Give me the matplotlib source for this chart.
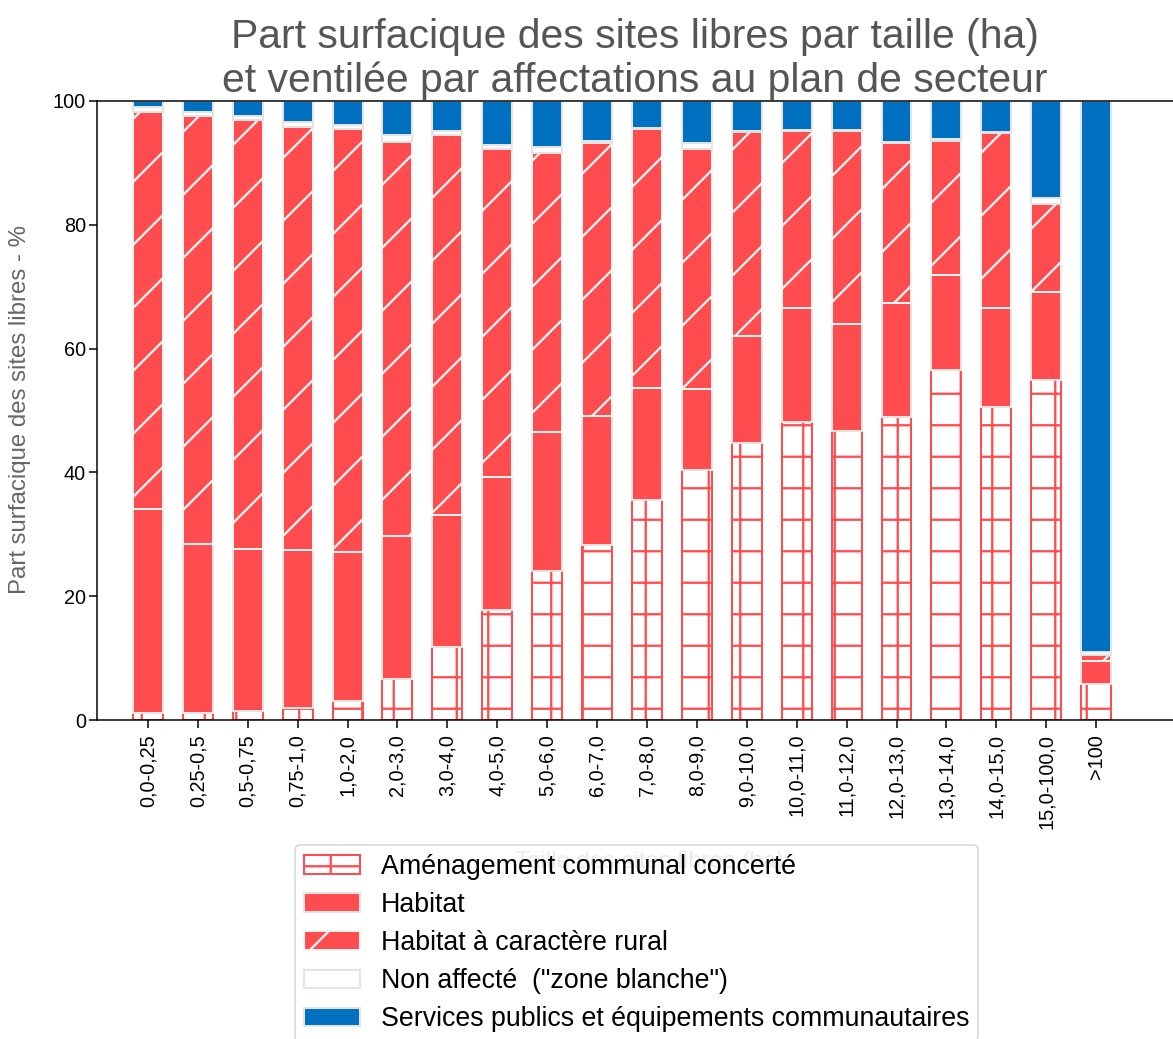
import matplotlib
matplotlib.use("Agg")
import matplotlib.pyplot as plt
import numpy as np

DPI = 378
W, H = 1173, 1039


def P(px):
    """Pixels to points at the figure resolution."""
    return px * 72.0 / DPI


plt.rcParams["font.family"] = ["Liberation Sans", "DejaVu Sans"]
plt.rcParams["hatch.linewidth"] = P(2.3)

# Size classes of the free sites (ha)
categories = ["0,0-0,25", "0,25-0,5", "0,5-0,75", "0,75-1,0", "1,0-2,0",
              "2,0-3,0", "3,0-4,0", "4,0-5,0", "5,0-6,0", "6,0-7,0",
              "7,0-8,0", "8,0-9,0", "9,0-10,0", "10,0-11,0", "11,0-12,0",
              "12,0-13,0", "13,0-14,0", "14,0-15,0", "15,0-100,0", ">100"]

# Share of surface (%) by land-use designation
amenagement = [1.2, 1.2, 1.5, 2.0, 3.0, 6.6, 11.8, 17.8, 24.0, 28.3,
               35.5, 40.4, 44.7, 48.2, 46.7, 48.9, 56.5, 50.5, 55.0, 5.8]
habitat = [32.9, 27.3, 26.1, 25.5, 24.2, 23.1, 21.3, 21.4, 22.5, 20.8,
           18.1, 13.0, 17.3, 18.3, 17.3, 18.5, 15.4, 16.1, 14.2, 3.7]
habitat_rural = [64.2, 69.1, 69.3, 68.3, 68.2, 63.7, 61.4, 53.0, 45.1, 44.1,
                 41.8, 38.8, 33.0, 28.6, 31.1, 25.8, 21.7, 28.2, 14.2, 1.0]
non_affecte = [0.7, 0.6, 0.7, 0.8, 0.8, 1.1, 0.7, 0.7, 1.0, 0.4,
               0.2, 1.0, 0.2, 0.2, 0.2, 0.2, 0.2, 0.2, 1.0, 0.5]
services = [1.0, 1.8, 2.4, 3.4, 3.8, 5.5, 4.8, 7.1, 7.4, 6.4,
            4.4, 6.8, 4.8, 4.7, 4.7, 6.6, 6.2, 5.0, 15.6, 89.0]

series_labels = ["Aménagement communal concerté", "Habitat",
                 "Habitat à caractère rural", "Non affecté  (\"zone blanche\")",
                 "Services publics et équipements communautaires"]

RED = "#ff4d4f"
BLUE = "#0070c0"
EDGE = "#e4e4e4"

styles = [
    dict(facecolor="white", edgecolor=RED, hatch="++"),
    dict(facecolor=RED, edgecolor=EDGE),
    dict(facecolor=RED, edgecolor="#f4f4f4", hatch="//"),
    dict(facecolor="white", edgecolor=EDGE),
    dict(facecolor=BLUE, edgecolor=EDGE),
]

fig = plt.figure(figsize=(W / DPI, H / DPI), dpi=DPI)
ax = fig.add_axes([97 / W, (H - 720) / H, (W - 97) / W, (720 - 101) / H])

x = np.arange(len(categories))
bottom = np.zeros(len(categories))
handles = []
for values, label, st in zip([amenagement, habitat, habitat_rural, non_affecte, services],
                             series_labels, styles):
    vals = np.array(values)
    bars = ax.bar(x, vals, width=0.6, bottom=bottom, label=label,
                  linewidth=P(2), **st)
    handles.append(bars)
    bottom += vals

ax.set_xlim(-1.02, 20.54)
ax.set_ylim(0, 100)
ax.set_yticks([0, 20, 40, 60, 80, 100])
ax.set_xticks(x)
ax.set_xticklabels(categories, rotation=90)
ax.tick_params(axis="both", labelsize=P(20), length=P(8), width=P(1.5),
               colors="black")
ax.tick_params(axis="y", pad=P(3))
ax.tick_params(axis="x", pad=P(6))
for side in ["left", "bottom", "top"]:
    ax.spines[side].set_linewidth(P(1.5))
ax.spines["right"].set_visible(False)

ax.set_title("Part surfacique des sites libres par taille (ha)\n"
             "et ventilée par affectations au plan de secteur",
             fontsize=P(41), color="#555555", pad=P(9), linespacing=1.18)

fig.text(20 / W, 1 - 410 / H, "Part surfacique des sites libres - %",
         rotation=90, ha="center", va="center", fontsize=P(24), color="#666666")
fig.text(650 / W, 1 - 862 / H, "Taille des sites libres (ha)",
         ha="center", va="center", fontsize=P(24), color="#777777")

leg = fig.legend(handles=handles, labels=series_labels, loc="upper left",
                 bbox_to_anchor=(295 / W, 1 - 845 / H),
                 bbox_transform=fig.transFigure, fontsize=P(26.8),
                 handlelength=2.09, handleheight=0.67, handletextpad=0.78,
                 labelspacing=0.45, borderpad=0.33, borderaxespad=0,
                 framealpha=0.85, edgecolor="#cccccc", fancybox=True)
leg.get_frame().set_linewidth(P(1.5))

fig.savefig("out.png", dpi=DPI)
